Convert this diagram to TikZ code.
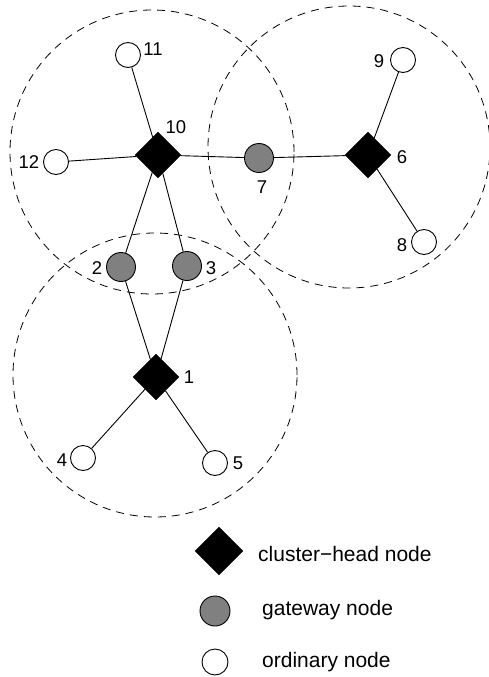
\documentclass[tikz,border=0pt]{standalone}
\usepackage{fontspec}
\setmainfont{Liberation Sans}
\usetikzlibrary{shapes.geometric}
\begin{document}
\begin{tikzpicture}[x=1pt,y=-1pt,
  rangering/.style={draw, dash pattern=on 8pt off 6pt, line width=0.8pt},
  link/.style={draw, line width=0.9pt},
  head/.style={diamond, fill=black, draw=black, minimum size=46pt, inner sep=0pt},
  gateway/.style={circle, fill=gray, draw=black, line width=0.9pt, minimum size=29pt, inner sep=0pt},
  plain/.style={circle, fill=white, draw=black, line width=0.9pt, minimum size=25pt, inner sep=0pt},
  num/.style={font=\fontsize{18.5}{22}\selectfont, inner sep=0pt},
  legendtext/.style={font=\fontsize{21}{24}\selectfont, inner sep=0pt, anchor=west}]
\useasboundingbox (0,0) rectangle (489,677);

% radio ranges of the three cluster heads
\draw[rangering] (152,152) circle [radius=142pt];
\draw[rangering] (349,147) circle [radius=141pt];
\draw[rangering] (155,375) circle [radius=142pt];

% nodes
\node[head] (n10) at (158,155) {};
\node[head] (n6) at (368,155) {};
\node[head] (n1) at (156,377) {};
\node[gateway] (n7) at (259,158) {};
\node[gateway] (n2) at (121,267) {};
\node[gateway] (n3) at (187,266) {};
\node[plain] (n11) at (128,55) {};
\node[plain] (n12) at (56,162) {};
\node[plain] (n9) at (403,60) {};
\node[plain] (n8) at (424,242) {};
\node[plain] (n4) at (83,458) {};
\node[plain] (n5) at (215,463) {};

% links
\draw[link] (n10) -- (n11);
\draw[link] (n10) -- (n12);
\draw[link] (n10) -- (n7);
\draw[link] (n7) -- (n6);
\draw[link] (n6) -- (n9);
\draw[link] (n6) -- (n8);
\draw[link] (n10) -- (n2);
\draw[link] (n10) -- (n3);
\draw[link] (n2) -- (n1);
\draw[link] (n3) -- (n1);
\draw[link] (n1) -- (n4);
\draw[link] (n1) -- (n5);

% node numbers
\node[num] (l10) at (176,127) {10};
\node[num] (l11) at (153,49) {11};
\node[num] (l12) at (29,162) {12};
\node[num] (l7) at (262,187) {7};
\node[num] (l6) at (402,157) {6};
\node[num] (l9) at (379,61) {9};
\node[num] (l8) at (402,245) {8};
\node[num] (l2) at (97,268) {2};
\node[num] (l3) at (211,268) {3};
\node[num] (l1) at (189,377) {1};
\node[num] (l4) at (62,460) {4};
\node[num] (l5) at (238,463) {5};

% legend
\node[head, minimum size=48pt] (k1) at (219,551) {};
\node[gateway, minimum size=30pt] (k2) at (215,611) {};
\node[plain, minimum size=26pt] (k3) at (215,662) {};
\node[legendtext] (t1) at (258,554) {cluster−head node};
\node[legendtext] (t2) at (262,610) {gateway node};
\node[legendtext] (t3) at (262,662) {ordinary node};
\end{tikzpicture}
\end{document}
